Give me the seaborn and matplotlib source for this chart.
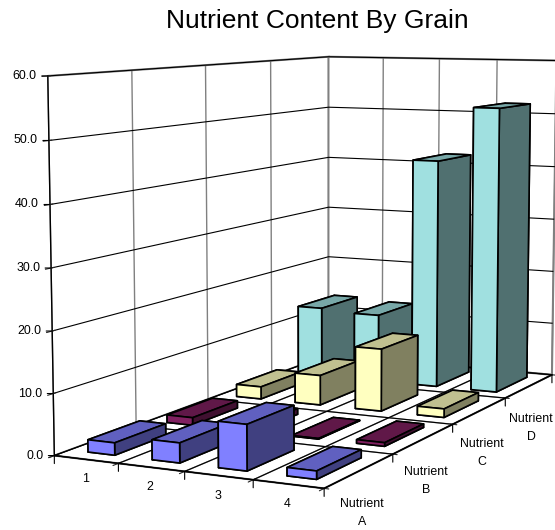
import numpy as np
import matplotlib
matplotlib.use('Agg')
import matplotlib.pyplot as plt
import seaborn as sns
from mpl_toolkits.mplot3d import proj3d

sns.set_style('white')
plt.rcParams['font.family'] = ['Liberation Sans', 'DejaVu Sans']

categories = ['1', '2', '3', '4']
series_names = ['Nutrient\nA', 'Nutrient\nB', 'Nutrient\nC', 'Nutrient\nD']
nutrient_a = [2.0, 3.2, 7.3, 1.3]
nutrient_b = [1.3, 1.0, 0.1, 0.6]
nutrient_c = [2.2, 5.3, 11.0, 1.5]
nutrient_d = [13.0, 12.5, 42.0, 52.0]
z_ticks = [0, 10, 20, 30, 40, 50, 60]
front_colors = ['#8080ff', '#802060', '#ffffc0', '#a0e0e0']
top_colors = ['#6060c0', '#601848', '#c0c090', '#78a8a8']
side_colors = ['#404080', '#401030', '#808060', '#507070']

fig = plt.figure(figsize=(5.55, 5.30), dpi=100)
# camera + position fitted against the wall corners of the reference
ax = fig.add_axes([-0.0584, -0.1328, 1.2600, 1.3195], projection='3d')
ax.set_proj_type('persp', focal_length=0.532)
ax.view_init(elev=7.165, azim=-63.744)
ax.set_box_aspect((1, 2.063, 1.258), zoom=1)
ax.computed_zorder = False
ax.patch.set_alpha(0)

all_series = [nutrient_a, nutrient_b, nutrient_c, nutrient_d]
n_cat = len(categories)
n_ser = len(series_names)
bar_w = 0.42
bar_d = 0.64
order = 10
# far row first, left to right
for j in range(n_ser - 1, -1, -1):
    for i in range(n_cat):
        # bottom, top, front, back, left, right
        faces = [side_colors[j], top_colors[j], front_colors[j], side_colors[j], side_colors[j], side_colors[j]]
        ax.bar3d(i + (1 - bar_w) / 2, j + (1 - bar_d) / 2, 0, bar_w, bar_d, all_series[j][i],
                 color=faces, edgecolor='black', linewidth=1.2, shade=False, zorder=order)
        order += 1

ax.set_xlim(0, n_cat)
ax.set_ylim(0, n_ser)
ax.set_zlim(0, 60)
ax.set_xticks(np.arange(n_cat + 1))
ax.set_xticklabels([''] * (n_cat + 1))
ax.set_yticks(np.arange(n_ser + 1))
ax.set_yticklabels([''] * (n_ser + 1))
ax.set_zticks(z_ticks)
ax.set_zticklabels([''] * len(z_ticks))
ax.zaxis.set_ticks_position('lower')
ax.grid(True)

for axis in [ax.xaxis, ax.yaxis, ax.zaxis]:
    axis.set_pane_color((1, 1, 1, 1))
    axis.pane.set_edgecolor('#808080')
    axis.pane.set_linewidth(1.5)
    axis.line.set_color('black')
    axis.line.set_linewidth(1.0)
ax.xaxis._axinfo['grid'].update(color='#808080', linewidth=1.0)
ax.yaxis._axinfo['grid'].update(color='#808080', linewidth=1.0)
ax.zaxis._axinfo['grid'].update(color='black', linewidth=0.8)

# floor lines are black, the wall verticals stay gray
for i in range(n_cat + 1):
    ax.plot([i, i], [0, n_ser], [0, 0], color='black', lw=0.8, zorder=5)
for j in range(n_ser + 1):
    ax.plot([0, n_cat], [j, j], [0, 0], color='black', lw=0.8, zorder=5)

M = ax.get_proj()
tick_style = dict(arrowstyle='-', color='black', lw=0.8, shrinkA=0, shrinkB=0)


def screen_pos(x, y, z):
    px, py, _ = proj3d.proj_transform(x, y, z, M)
    return px, py


# labels and tick marks in screen offsets, the reference has them straight below / left
for i, label in enumerate(categories):
    ax.annotate(label, screen_pos(i + 0.5, 0, 0), xytext=(-1, -20), textcoords='offset pixels', fontsize=8.9,
                ha='center', va='center', color='black')
for j, label in enumerate(series_names):
    ax.annotate(label, screen_pos(n_cat, j + 0.5, 0), xytext=(2, -42), textcoords='offset pixels', fontsize=8.9,
                ha='center', va='center', color='black', linespacing=1.65)
for v in z_ticks:
    ax.annotate('%.1f' % v, screen_pos(0, 0, v), xytext=(-11, 0), textcoords='offset pixels', fontsize=8.9,
                ha='right', va='center', color='black')
    ax.annotate('', screen_pos(0, 0, v), xytext=(-6, 0), textcoords='offset pixels', arrowprops=tick_style)
for i in range(n_cat + 1):
    ax.annotate('', screen_pos(i, 0, 0), xytext=(0, -8), textcoords='offset pixels', arrowprops=tick_style)
for j in range(1, n_ser + 1):
    ax.annotate('', screen_pos(n_cat, j, 0), xytext=(0, -8), textcoords='offset pixels', arrowprops=tick_style)

fig.text(317 / 555, 1 - 21 / 530, 'Nutrient Content By Grain', ha='center', va='center', fontsize=19, color='black')
fig.savefig('out.png', dpi=100)
